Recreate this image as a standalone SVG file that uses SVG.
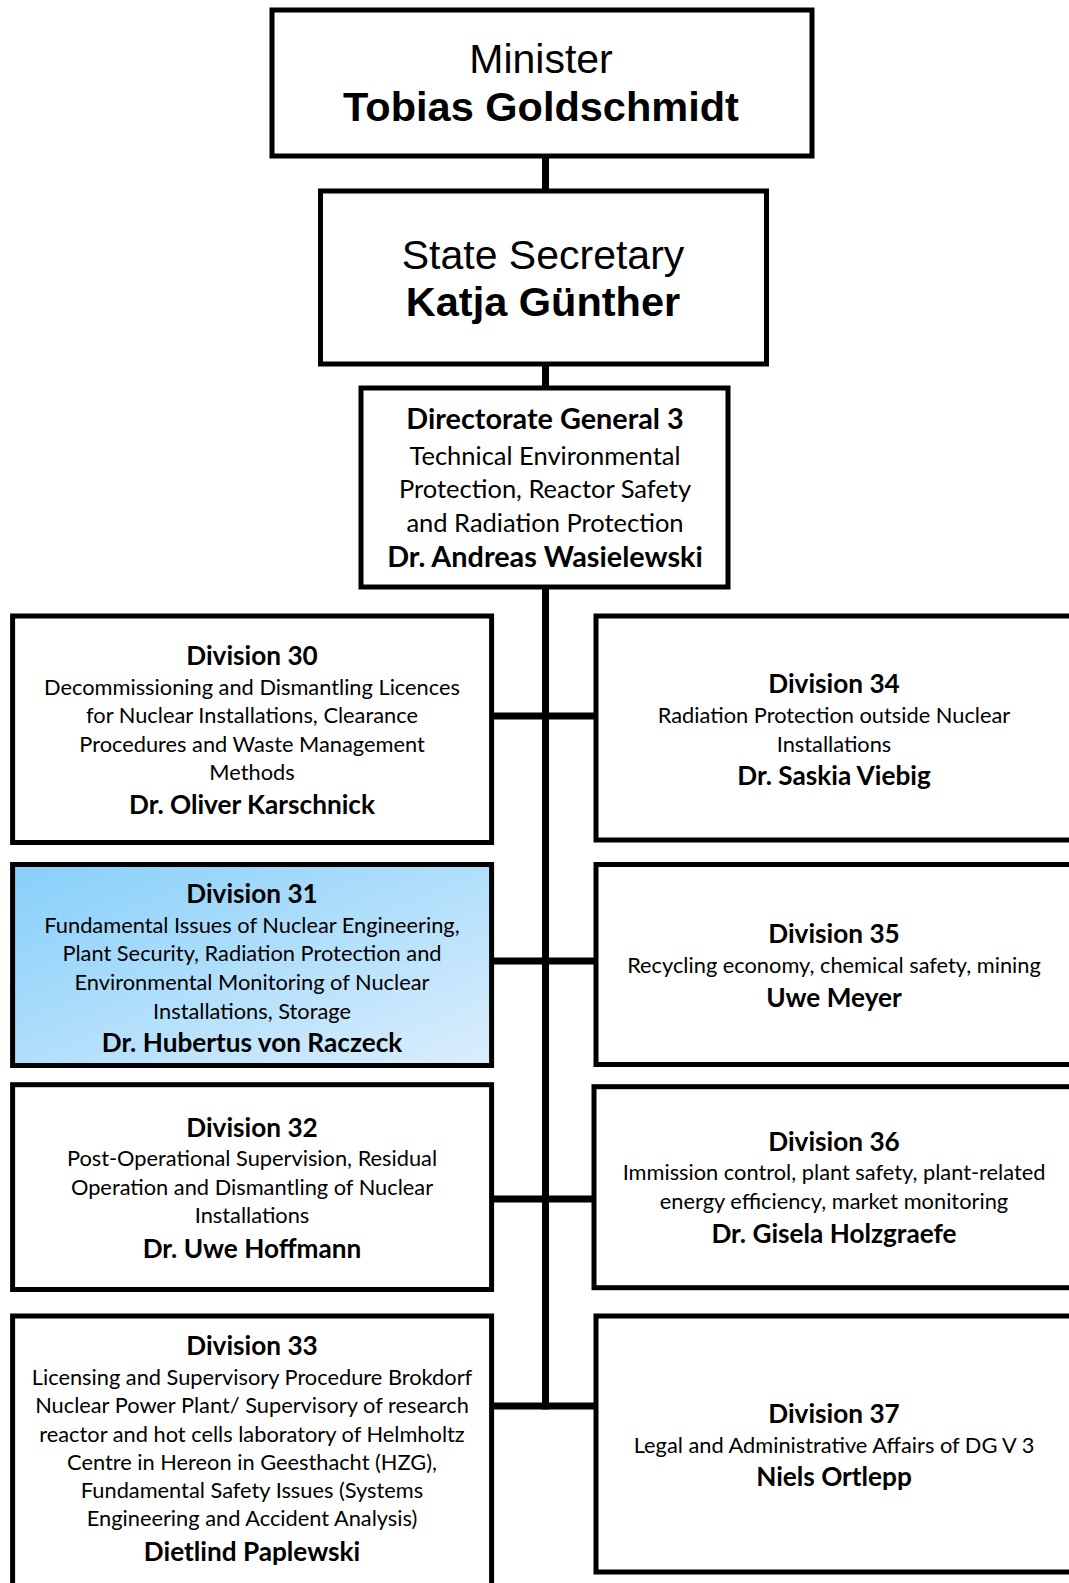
<svg xmlns="http://www.w3.org/2000/svg" width="1069" height="1583" viewBox="0 0 1069 1583">
<defs>
<linearGradient id="blue" x1="0" y1="0" x2="1" y2="1">
<stop offset="0" stop-color="#86cffa"/>
<stop offset="1" stop-color="#dbeefc"/>
</linearGradient>
<style>
.box{fill:#fff;stroke:#000;stroke-width:5;}
.conn{stroke:#000;stroke-width:7;fill:none;}
.ar{font-family:"Liberation Sans",Arial,sans-serif;font-size:41px;text-anchor:middle;fill:#000;}
.arb{font-family:"Liberation Sans",Arial,sans-serif;font-size:41.5px;font-weight:bold;text-anchor:middle;fill:#000;}
.t{font-family:Lato,"Open Sans",sans-serif;font-size:26.2px;font-weight:bold;text-anchor:middle;fill:#000;}
.tg{font-family:Lato,"Open Sans",sans-serif;font-size:28.8px;font-weight:bold;text-anchor:middle;fill:#000;}
.b{font-family:Lato,"Open Sans",sans-serif;font-size:21.8px;text-anchor:middle;fill:#000;}
.bd{font-family:Lato,"Open Sans",sans-serif;font-size:25.5px;text-anchor:middle;fill:#000;}
</style>
</defs>
<rect x="0" y="0" width="1069" height="1583" fill="#fff"/>
<g id="connectors">
<line class="conn" x1="545.5" y1="150" x2="545.5" y2="195"/>
<line class="conn" x1="545.5" y1="355" x2="545.5" y2="392"/>
<line class="conn" x1="545.5" y1="580" x2="545.5" y2="1409.5"/>
<line class="conn" x1="490" y1="716" x2="597" y2="716"/>
<line class="conn" x1="490" y1="961" x2="597" y2="961"/>
<line class="conn" x1="490" y1="1199" x2="597" y2="1199"/>
<line class="conn" x1="490" y1="1406" x2="597" y2="1406"/>
</g>
<g id="minister">
<rect class="box" x="272" y="10" width="540" height="146"/>
<text class="ar" x="541" y="73">Minister</text>
<text class="arb" x="541" y="121">Tobias Goldschmidt</text>
</g>
<g id="state-secretary">
<rect class="box" x="320.5" y="191" width="446" height="173"/>
<text class="ar" x="543" y="268.5">State Secretary</text>
<text class="arb" x="543" y="316">Katja Günther</text>
</g>
<g id="dg3">
<rect class="box" x="361" y="388" width="367" height="199"/>
<text class="tg" x="545" y="428.5">Directorate General 3</text>
<text class="bd" x="545" y="465">Technical Environmental</text>
<text class="bd" x="545" y="498">Protection, Reactor Safety</text>
<text class="bd" x="545" y="531.5">and Radiation Protection</text>
<text class="tg" x="545" y="567">Dr. Andreas Wasielewski</text>
</g>
<g id="div30">
<rect class="box" x="12.6" y="616" width="479" height="226.5"/>
<text class="t" x="252" y="665">Division 30</text>
<text class="b" x="252" y="694.5">Decommissioning and Dismantling Licences</text>
<text class="b" x="252" y="722.8">for Nuclear Installations, Clearance</text>
<text class="b" x="252" y="752">Procedures and Waste Management</text>
<text class="b" x="252" y="780">Methods</text>
<text class="t" x="252" y="813.6">Dr. Oliver Karschnick</text>
</g>
<g id="div31">
<rect class="box" x="12.6" y="864.5" width="479" height="201" fill="url(#blue)" style="fill:url(#blue)"/>
<text class="t" x="252" y="903.4">Division 31</text>
<text class="b" x="252" y="932.7">Fundamental Issues of Nuclear Engineering,</text>
<text class="b" x="252" y="961">Plant Security, Radiation Protection and</text>
<text class="b" x="252" y="990.3">Environmental Monitoring of Nuclear</text>
<text class="b" x="252" y="1018.5">Installations, Storage</text>
<text class="t" x="252" y="1051.8">Dr. Hubertus von Raczeck</text>
</g>
<g id="div32">
<rect class="box" x="12.6" y="1084.7" width="479" height="204.8"/>
<text class="t" x="252" y="1136.6">Division 32</text>
<text class="b" x="252" y="1165.9">Post-Operational Supervision, Residual</text>
<text class="b" x="252" y="1195.2">Operation and Dismantling of Nuclear</text>
<text class="b" x="252" y="1223.4">Installations</text>
<text class="t" x="252" y="1257.8">Dr. Uwe Hoffmann</text>
</g>
<g id="div33">
<rect class="box" x="12.6" y="1316" width="479" height="300"/>
<text class="t" x="252" y="1354.7">Division 33</text>
<text class="b" x="252" y="1385">Licensing and Supervisory Procedure Brokdorf</text>
<text class="b" x="252" y="1413.2">Nuclear Power Plant/ Supervisory of research</text>
<text class="b" x="252" y="1441.5">reactor and hot cells laboratory of Helmholtz</text>
<text class="b" x="252" y="1469.7">Centre in Hereon in Geesthacht (HZG),</text>
<text class="b" x="252" y="1498">Fundamental Safety Issues (Systems</text>
<text class="b" x="252" y="1526.3">Engineering and Accident Analysis)</text>
<text class="t" x="252" y="1560.6">Dietlind Paplewski</text>
</g>
<g id="div34">
<rect class="box" x="596" y="616" width="490" height="224"/>
<text class="t" x="834" y="692.5">Division 34</text>
<text class="b" x="834" y="722.8">Radiation Protection outside Nuclear</text>
<text class="b" x="834" y="752">Installations</text>
<text class="t" x="834" y="785.3">Dr. Saskia Viebig</text>
</g>
<g id="div35">
<rect class="box" x="596" y="864.5" width="490" height="200"/>
<text class="t" x="834" y="942.8">Division 35</text>
<text class="b" x="834" y="973">Recycling economy, chemical safety, mining</text>
<text class="t" x="834" y="1007.4">Uwe Meyer</text>
</g>
<g id="div36">
<rect class="box" x="594" y="1086.7" width="492" height="201"/>
<text class="t" x="834" y="1150.8">Division 36</text>
<text class="b" x="834" y="1180">Immission control, plant safety, plant-related</text>
<text class="b" x="834" y="1209.3">energy efficiency, market monitoring</text>
<text class="t" x="834" y="1242.6">Dr. Gisela Holzgraefe</text>
</g>
<g id="div37">
<rect class="box" x="596" y="1316" width="490" height="256"/>
<text class="t" x="834" y="1423.3">Division 37</text>
<text class="b" x="834" y="1452.6">Legal and Administrative Affairs of DG V 3</text>
<text class="t" x="834" y="1485.9">Niels Ortlepp</text>
</g>
</svg>
